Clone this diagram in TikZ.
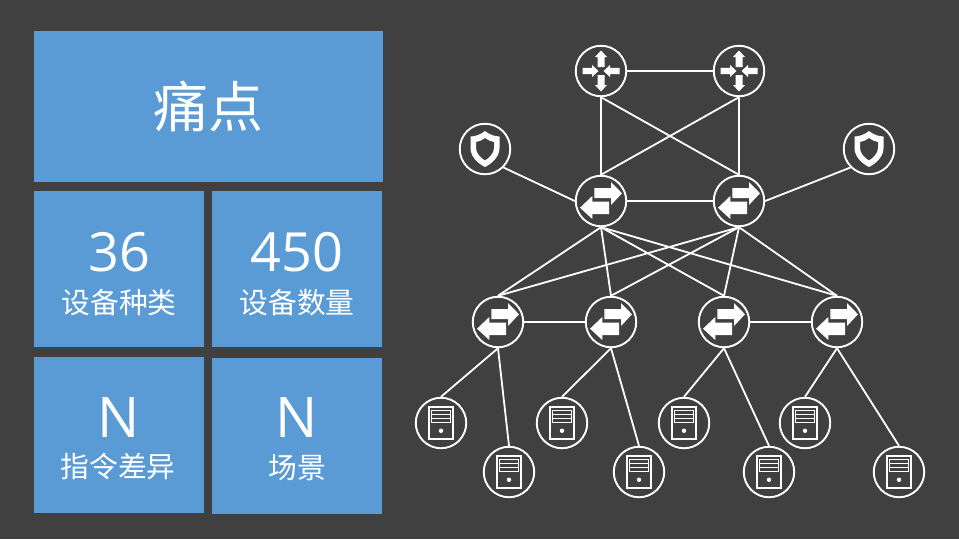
\documentclass[tikz,border=0pt]{standalone}
\usepackage{fontspec}
\setmainfont{Open Sans}
\newfontfamily\cjk{Noto Sans CJK SC}
\definecolor{bg}{HTML}{404040}
\definecolor{tile}{HTML}{5B9BD5}
\tikzset{
  x=1pt,y=-1pt,
  tilebox/.style={fill=tile,draw=none},
  devnode/.style={circle,draw=white,line width=1.9pt,minimum size=50.5pt,inner sep=0pt,fill=bg},
  link/.style={draw=white,line width=1.8pt},
  num/.style={text=white,font=\fontsize{54}{54}\selectfont,anchor=center,inner sep=0pt},
  lab/.style={text=white,font=\cjk\fontsize{28.8}{29}\selectfont,anchor=center,inner sep=0pt},
  pics/routericon/.style={code={
    \fill[white] (-18.5,-3.2) -- (-9,-3.2) -- (-9,-6) -- (-2.5,0) -- (-9,6) -- (-9,3.2) -- (-18.5,3.2) -- cycle;
    \fill[white] (18.5,-3.2) -- (9,-3.2) -- (9,-6) -- (2.5,0) -- (9,6) -- (9,3.2) -- (18.5,3.2) -- cycle;
    \fill[white] (-3.5,-4) -- (-3.5,-14) -- (-6,-14) -- (0,-20.5) -- (6,-14) -- (3.5,-14) -- (3.5,-4) -- cycle;
    \fill[white] (-3.5,4) -- (-3.5,14) -- (-6,14) -- (0,20.5) -- (6,14) -- (3.5,14) -- (3.5,4) -- cycle;
  }},
  pics/switchicon/.style={code={
    \fill[white] (-6.7,-13) -- (10,-13) -- (10,-19) -- (21,-7.7) -- (10,4) -- (10,-3) -- (-6.7,-3) -- cycle;
    \fill[white] (8,0.7) -- (-8.7,0.7) -- (-8.7,-5) -- (-21,6.7) -- (-8.7,18) -- (-8.7,13) -- (8,13) -- cycle;
  }},
  pics/shieldicon/.style={code={
    \fill[white,even odd rule]
      (0,-18) .. controls (4,-14.5) and (10,-12.5) .. (14.5,-12.5) -- (14.5,-1)
      .. controls (14.5,7) and (8,14) .. (0,18) .. controls (-8,14) and (-14.5,7) .. (-14.5,-1) -- (-14.5,-12.5)
      .. controls (-10,-12.5) and (-4,-14.5) .. (0,-18) -- cycle
      (0,-11) .. controls (-2.5,-9) and (-6,-7.5) .. (-9,-7) -- (-9,-1)
      .. controls (-9,4) and (-4.5,9) .. (0,11.5) .. controls (4.5,9) and (9,4) .. (9,-1) -- (9,-7)
      .. controls (6,-7.5) and (2.5,-9) .. (0,-11) -- cycle;
  }},
  pics/servericon/.style={code={
    \draw[white,line width=1.1pt] (-12,-16) rectangle (12,16);
    \draw[white,line width=1.1pt] (-9.5,-12.5) rectangle (9.5,-0.5);
    \draw[white,line width=1.1pt] (-9.5,-8.5) -- (9.5,-8.5) (-9.5,-4.5) -- (9.5,-4.5);
    \fill[white] (0,7.8) circle (2.2);
  }},
}
\begin{document}
\begin{tikzpicture}
\useasboundingbox (0,0) rectangle (959,539);
\fill[bg] (0,0) rectangle (959,539);

% tiles
\node[tilebox,minimum width=349pt,minimum height=151pt,inner sep=0pt] (t0) at (208.5,106.5) {};
\node[tilebox,minimum width=170pt,minimum height=156pt,inner sep=0pt] (t1) at (119,269) {};
\node[tilebox,minimum width=170pt,minimum height=156pt,inner sep=0pt] (t2) at (297,269) {};
\node[tilebox,minimum width=170pt,minimum height=156pt,inner sep=0pt] (t3) at (119,435) {};
\node[tilebox,minimum width=170pt,minimum height=156pt,inner sep=0pt] (t4) at (297,436) {};

\node[lab,font=\cjk\fontsize{55}{55}\selectfont] (h0) at (208,106) {痛点};
\node[num] (n1) at (119,252) {36};
\node[lab] (l1) at (119,303) {设备种类};
\node[num] (n2) at (297,252) {450};
\node[lab] (l2) at (297,303) {设备数量};
\node[num,font=\fontsize{56}{56}\selectfont] (n3) at (119,418) {N};
\node[lab] (l3) at (118,467) {指令差异};
\node[num,font=\fontsize{56}{56}\selectfont] (n4) at (297,418) {N};
\node[lab] (l4) at (297,468) {场景};

% devices
\node[devnode] (r1) at (601,71) {};
\node[devnode] (r2) at (739,71) {};
\node[devnode] (f1) at (485,149) {};
\node[devnode] (f2) at (869,149) {};
\node[devnode] (c1) at (601,201) {};
\node[devnode] (c2) at (739,201) {};
\node[devnode] (a1) at (498,322) {};
\node[devnode] (a2) at (611,322) {};
\node[devnode] (a3) at (724,322) {};
\node[devnode] (a4) at (837,322) {};
\node[devnode] (s1) at (441,423) {};
\node[devnode] (s2) at (509,472) {};
\node[devnode] (s3) at (562,423) {};
\node[devnode] (s4) at (639,472) {};
\node[devnode] (s5) at (684,423) {};
\node[devnode] (s6) at (769,472) {};
\node[devnode] (s7) at (805,423) {};
\node[devnode] (s8) at (899,472) {};

% links
\draw[link] (r1) -- (r2);
\draw[link] (r1.south) -- (c1.north);
\draw[link] (r2.south) -- (c2.north);
\draw[link] (r1.south) -- (c2.north);
\draw[link] (r2.south) -- (c1.north);
\draw[link] (c1) -- (c2);
\draw[link] (f1.south east) -- (c1.west);
\draw[link] (f2.south west) -- (c2.east);
\foreach \c in {c1,c2}{
  \foreach \a in {a1,a2,a3,a4}{
    \draw[link] (\c.south) -- (\a.north);
  }
}
\draw[link] (a1) -- (a2);
\draw[link] (a3) -- (a4);
\draw[link] (a1.south) -- (s1.north);
\draw[link] (a1.south) -- (s2.north);
\draw[link] (a2.south) -- (s3.north);
\draw[link] (a2.south) -- (s4.north);
\draw[link] (a3.south) -- (s5.north);
\draw[link] (a3.south) -- (s6.north);
\draw[link] (a4.south) -- (s7.north);
\draw[link] (a4.south) -- (s8.north);

% icons
\foreach \n in {r1,r2}{ \path (\n) pic {routericon}; }
\foreach \n in {c1,c2,a1,a2,a3,a4}{ \path (\n) pic {switchicon}; }
\foreach \n in {f1,f2}{ \path (\n) pic {shieldicon}; }
\foreach \n in {s1,s2,s3,s4,s5,s6,s7,s8}{ \path (\n) pic {servericon}; }
\end{tikzpicture}
\end{document}
